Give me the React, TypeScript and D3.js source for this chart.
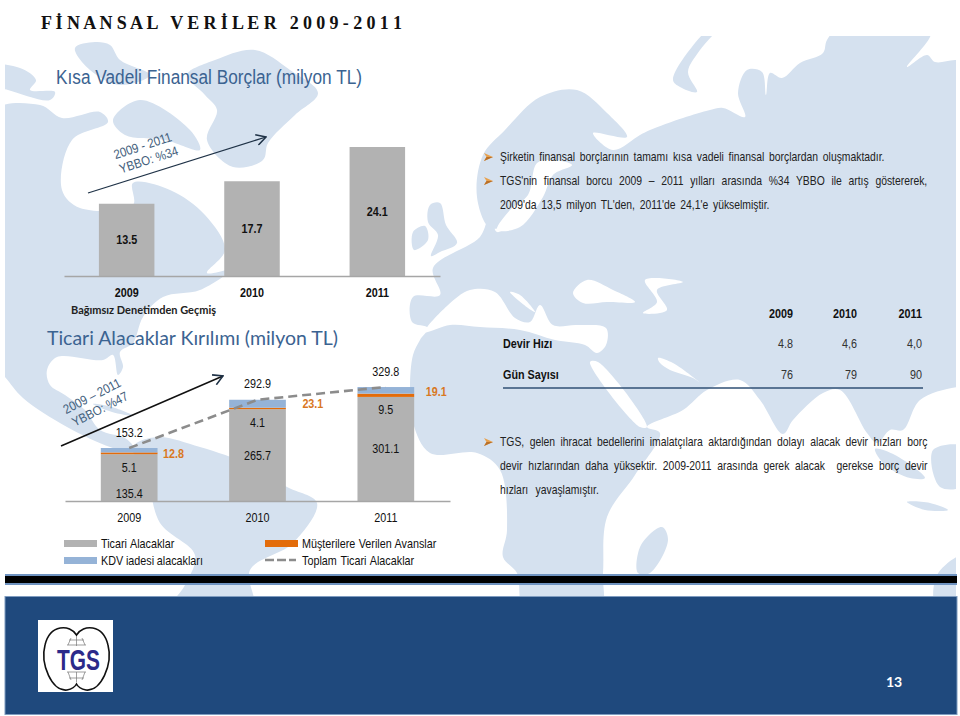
import * as d3 from 'd3';
import { useEffect, useRef } from 'react';

// chart data
const years = ['2009', '2010', '2011'];
const debtValues = [13.5, 17.7, 24.1];
const tradeReceivables = [135.4, 265.7, 301.1];
const customerAdvances = [5.1, 4.1, 9.5];
const vatReceivables = [12.8, 23.1, 19.1];
const totalReceivables = [153.2, 292.9, 329.8];
const stackKeys = ['trade', 'advance', 'vat'];

const turnoverRows = [
    { label: 'Devir Hızı', values: ['4.8', '4,6', '4,0'] },
    { label: 'Gün Sayısı', values: ['76', '79', '90'] },
];

const LAND = '#d5e1ef';
const GREY = '#b2b2b2';
const ORANGE = '#e36c0a';
const KDV = '#95b3d7';
const TITLE_BLUE = '#3b6391';
const ARIAL = '"Liberation Sans", Arial, sans-serif';
const CALIBRI = 'Lato, "Open Sans", sans-serif';
const SQUEEZE = 0.83;

// rough outlines of the background world map, page coordinates
const landShapes: [number, number][][] = [
    [[-10, 66], [20, 68], [36, 80], [30, 90], [55, 92], [50, 100], [8, 90], [-10, 85]],
    [[75, 48], [95, 42], [110, 45], [120, 60], [150, 75], [120, 85], [90, 70]],
    [[113, 120], [140, 100], [190, 130], [200, 150], [165, 140], [125, 135]],
    [[187, 75], [215, 60], [255, 50], [290, 70], [318, 93], [295, 115], [268, 143], [263, 160], [233, 167], [207, 140], [217, 110], [205, 95]],
    // north and central America
    [[-10, 113], [40, 105], [62, 118], [100, 112], [108, 122], [72, 140], [62, 190], [80, 208], [133, 205], [133, 183], [170, 190], [205, 215], [225, 250], [207, 273], [230, 270], [200, 290], [163, 297], [143, 317], [133, 343], [120, 352], [123, 367], [118, 375], [113, 355], [103, 360], [57, 357], [47, 370], [50, 385], [65, 395], [85, 410], [100, 430], [125, 438], [133, 447], [123, 450], [110, 447], [67, 427], [23, 398], [5, 377], [-10, 360]],
    // cuba
    [[93, 404], [112, 407], [134, 416], [112, 412]],
    // south America
    [[133, 447], [157, 437], [200, 447], [250, 465], [287, 487], [317, 503], [293, 543], [250, 570], [253, 610], [170, 610], [185, 585], [195, 555], [160, 523], [147, 477]],
    // ireland, britain
    [[413, 232], [425, 226], [428, 240], [414, 250]],
    [[430, 205], [440, 203], [446, 225], [457, 243], [440, 252], [431, 256], [438, 235], [428, 222]],
    // eurasia and africa
    [[483, 155], [505, 130], [540, 97], [577, 90], [607, 113], [627, 137], [593, 133], [613, 150], [640, 135], [650, 130], [683, 118], [710, 110], [723, 108], [745, 117], [738, 93], [747, 70], [762, 72], [766, 95], [770, 73], [782, 78], [800, 63], [823, 53], [827, 40], [847, 20], [933, 20], [930, 37], [907, 67], [927, 55], [935, 62], [955, 60], [980, 60], [980, 387], [957, 387], [920, 400], [903, 430], [890, 430], [877, 443], [867, 433], [840, 390], [823, 393], [793, 420], [783, 434], [760, 400], [740, 380], [707, 390], [683, 410], [647, 427], [660, 433], [635, 475], [607, 517], [603, 573], [600, 610], [525, 610], [517, 573], [503, 557], [507, 530], [500, 470], [477, 453], [430, 453], [413, 423], [410, 390], [413, 355], [420, 340], [428, 328], [412, 322], [413, 297], [440, 295], [433, 268], [480, 237], [490, 215], [497, 232], [510, 225], [490, 228], [477, 197]],
    // madagascar, islands, australia
    [[662, 527], [668, 540], [650, 573], [638, 573], [641, 545]],
    [[875, 449], [895, 455], [925, 478], [910, 478], [885, 465]],
    [[933, 450], [965, 447], [965, 485], [940, 487]],
    [[907, 502], [930, 503], [948, 510], [925, 510]],
    [[937, 575], [965, 555], [965, 610], [937, 610]],
    // novaya zemlya
    [[720, 20], [695, 43], [673, 80], [680, 87], [697, 92], [688, 72], [700, 50], [725, 20]],
];

// seas cut out of the land
const seaShapes: [number, number][][] = [
    [[537, 163], [552, 160], [572, 165], [553, 175], [543, 197], [520, 227], [497, 230], [510, 210], [528, 195]],
    // black sea, caspian
    [[573, 293], [587, 280], [613, 290], [635, 302], [607, 302], [583, 303]],
    [[645, 280], [683, 282], [657, 290], [667, 310], [643, 313], [657, 302]],
    // mediterranean, adriatic
    [[425, 332], [447, 306], [470, 290], [495, 292], [515, 318], [530, 322], [540, 305], [553, 325], [577, 325], [606, 328], [606, 345], [597, 353], [585, 345], [555, 340], [520, 330], [480, 327], [450, 325]],
    [[510, 292], [520, 295], [535, 312], [528, 308]],
    // red sea, gulf
    [[590, 362], [598, 362], [647, 427], [640, 427]],
    [[658, 358], [673, 363], [703, 385], [693, 378], [670, 370], [660, 363]],
];

const mapLine = d3.line().curve(d3.curveCatmullRomClosed.alpha(0.5));

const debtX = d3.scaleBand().domain(years).range([64, 440]).paddingInner(0.557).paddingOuter(0.2785);
const debtY = d3.scaleLinear().domain([0, 24.1]).range([276, 147]);

const recvX = d3.scaleBand().domain(years).range([65, 450]).paddingInner(0.558).paddingOuter(0.279);
const recvY = d3.scaleLinear().domain([0, 329.8]).range([501, 387]);

const stackRows = years.map((year, i) => ({
    year,
    trade: tradeReceivables[i],
    advance: customerAdvances[i],
    vat: vatReceivables[i],
}));
const stacked = d3.stack().keys(stackKeys)(stackRows as any);
const stackColors: Record<string, string> = { trade: GREY, advance: ORANGE, vat: KDV };

const totalLine = d3.line<number>()
    .x((_, i) => recvX(years[i])! + recvX.bandwidth() / 2)
    .y((d) => recvY(d));

// extra push for the orange labels beside the bars
const vatLabelGap = [16, 27, 22];

const measureCtx = document.createElement('canvas').getContext('2d')!;

function Bullet({ x, y }: { x: number; y: number }) {
    return <g transform={`translate(${x},${y})`}>
        <path d="M0,-4 L9,0 L0,4 L2.5,0 Z" fill="#e8a04c" />
        <path d="M0,4 L9,0 L2.5,0 Z" fill="#b8702a" />
    </g>;
}

// narrow text like the source, word gaps stretched to reach the given width
function Line({ x, y, text, width, size = 12.5, fill = '#222', weight = 'normal' }: any) {
    measureCtx.font = `${weight} ${size}px "Liberation Sans"`;
    const natural = measureCtx.measureText(text).width;
    const gaps = text.split(' ').length - 1;
    const spread = gaps ? (width / SQUEEZE - natural) / gaps : 0;
    return <text transform={`translate(${x},${y}) scale(${SQUEEZE},1)`} fontFamily={ARIAL} fontSize={size}
        fontWeight={weight} fill={fill} wordSpacing={spread} style={{ whiteSpace: 'pre' }}>{text}</text>;
}

function Narrow({ x, y, text, anchor = 'middle', weight = 'normal', fill = '#111', size = 13 }: any) {
    return <text transform={`translate(${x},${y}) scale(${SQUEEZE},1)`} textAnchor={anchor} fontFamily={ARIAL}
        fontSize={size} fontWeight={weight} fill={fill}>{text}</text>;
}

function Logo() {
    return <g>
        <rect x={38} y={620} width={75} height={72} fill="#fff" />
        <path d="M76.5,635 C70,624 50,624 45,645 C40,664 52,692 67,690 C72,689 75,687 76.5,684 C78,687 81,689 86,690 C101,692 113,664 108,645 C103,624 83,624 76.5,635 Z"
            fill="none" stroke="#111" strokeWidth={1.6} />
        <path d="M67,645 L86,645 M69,640 L84,640 M76.5,636 L76.5,646 M71,638 L68,645 M82,638 L85,645" stroke="#777" strokeWidth={0.7} fill="none" />
        <path d="M67,672 L86,672 M69,678 L84,678 M76.5,672 L76.5,682 M68,672 L71,680 M85,672 L82,680" stroke="#777" strokeWidth={0.7} fill="none" />
        <text transform="translate(57,670) scale(0.72,1)" fontFamily={ARIAL} fontWeight="bold" fontSize={29} fill="#2b2a8a">TGS</text>
    </g>;
}

export default function App() {
    const debtAxis = useRef<SVGGElement>(null);
    const recvAxis = useRef<SVGGElement>(null);

    useEffect(() => {
        const draw = (node: SVGGElement | null, scale: any, bold: boolean) => {
            const g = d3.select(node).call(d3.axisBottom(scale).tickSize(0).tickPadding(11.5));
            g.select('.domain').attr('stroke', '#a6a6a6').attr('stroke-width', 1.5);
            g.selectAll('text')
                .attr('font-family', ARIAL)
                .attr('font-size', 13)
                .attr('font-weight', bold ? 'bold' : 'normal')
                .attr('fill', '#111')
                .attr('transform', `scale(${SQUEEZE},1)`);
        };
        draw(debtAxis.current, debtX, true);
        draw(recvAxis.current, recvX, false);
    }, []);

    return <svg width={960} height={716} style={{ position: 'absolute', left: 0, top: 0 }}>
        <defs>
            <clipPath id="mapClip"><rect x={5} y={36} width={951} height={564} /></clipPath>
            <marker id="openHead" viewBox="0 0 10 10" refX={9} refY={5} markerWidth={12} markerHeight={12} markerUnits="userSpaceOnUse" orient="auto">
                <path d="M1,0.5 L9,5 L1,9.5" fill="none" stroke="#1f3247" strokeWidth={1.3} />
            </marker>
        </defs>
        <rect width={960} height={716} fill="#fff" />

        <g clipPath="url(#mapClip)">
            {landShapes.map((s, i) => <path key={i} d={mapLine(s)!} fill={LAND} />)}
            {seaShapes.map((s, i) => <path key={i} d={mapLine(s)!} fill="#fff" />)}
        </g>

        <text x={41} y={29} fontFamily='"Liberation Serif", serif' fontWeight="bold" fontSize={18} fill="#111"
            style={{ whiteSpace: 'pre' }} textLength={361} lengthAdjust="spacing">F İ N A N S A L   V E R İ L E R   2 0 0 9 - 2 0 1 1</text>

        {/* short term debt chart */}
        <text x={56} y={84} fontFamily={ARIAL} fontSize={20} fill={TITLE_BLUE} textLength={306} lengthAdjust="spacingAndGlyphs">Kısa Vadeli Finansal Borçlar (milyon TL)</text>
        {debtValues.map((v, i) => <g key={years[i]}>
            <rect x={debtX(years[i])} y={debtY(v)} width={debtX.bandwidth()} height={debtY(0) - debtY(v)} fill={GREY} />
            <Narrow x={debtX(years[i])! + debtX.bandwidth() / 2} y={(debtY(v) + debtY(0)) / 2 + 4.5} weight="bold" text={v.toFixed(1)} />
        </g>)}
        <g ref={debtAxis} transform={`translate(0,${debtY(0)})`} />
        <line x1={88} y1={193} x2={266} y2={137} stroke="#1f3247" strokeWidth={1.3} markerEnd="url(#openHead)" />
        <g fontFamily={ARIAL} fontSize={13} fill="#43607c" textAnchor="middle">
            <text transform="translate(144,150) rotate(-18) scale(0.88,1)">2009 - 2011</text>
            <text transform="translate(150,164) rotate(-18) scale(0.88,1)">YBBO: %34</text>
        </g>
        <text x={71} y={314} fontFamily={CALIBRI} fontWeight="bold" fontSize={11.5} fill="#222" textLength={145} lengthAdjust="spacingAndGlyphs">Bağımsız Denetimden Geçmiş</text>

        {/* trade receivables chart */}
        <text x={47} y={345} fontFamily={CALIBRI} fontSize={20} fill={TITLE_BLUE} textLength={291} lengthAdjust="spacingAndGlyphs">Ticari Alacaklar Kırılımı (milyon TL)</text>
        {stacked.map((layer: any) => layer.map((d: any) => <rect key={layer.key + d.data.year}
            x={recvX(d.data.year)} y={recvY(d[1])} width={recvX.bandwidth()}
            height={recvY(d[0]) - recvY(d[1])} fill={stackColors[layer.key]} />))}
        <path d={totalLine(totalReceivables)!} fill="none" stroke="#8c8c8c" strokeWidth={2.6} strokeDasharray="9 5" />
        <g ref={recvAxis} transform={`translate(0,${recvY(0)})`} />
        {years.map((year, i) => {
            const cx = recvX(year)! + recvX.bandwidth() / 2;
            const tradeTop = recvY(tradeReceivables[i]);
            // the 2009 label sits lower in the bar than the other two
            const tradeMid = i === 0 ? recvY(0) - 8 : (tradeTop + recvY(0)) / 2;
            return <g key={year}>
                <Narrow x={cx} y={recvY(totalReceivables[i]) - 11.5} text={totalReceivables[i].toFixed(1)} />
                <Narrow x={cx} y={tradeTop + 17.5} text={customerAdvances[i].toFixed(1)} />
                <Narrow x={cx} y={tradeMid + 4.5} text={tradeReceivables[i].toFixed(1)} />
                <Narrow x={recvX(year)! + recvX.bandwidth() + vatLabelGap[i]} y={recvY(totalReceivables[i]) + 8.5 + (i === 0 ? 1 : 0)}
                    fill="#d9781f" weight="bold" text={vatReceivables[i].toFixed(1)} />
            </g>;
        })}
        <rect x={64} y={540} width={33} height={7} fill={GREY} />
        <Line x={101} y={547.5} size={13} fill="#111" width={74} text="Ticari Alacaklar" />
        <rect x={64} y={557} width={33} height={7} fill={KDV} />
        <Line x={101} y={564.5} size={13} fill="#111" width={102} text="KDV iadesi alacakları" />
        <rect x={265} y={540} width={33} height={7} fill={ORANGE} />
        <Line x={302} y={547.5} size={13} fill="#111" width={135} text="Müşterilere Verilen Avanslar" />
        <line x1={265} x2={296} y1={560} y2={560} stroke="#8c8c8c" strokeWidth={2.6} strokeDasharray="9 3" />
        <Line x={302} y={564.5} size={13} fill="#111" width={113} text="Toplam Ticari Alacaklar" />

        <line x1={61} y1={446} x2={223} y2={376} stroke="#111" strokeWidth={1.5} markerEnd="url(#openHead)" />
        <g fontFamily={ARIAL} fontSize={13} fill="#43607c" textAnchor="middle">
            <text transform="translate(94,400) rotate(-27) scale(0.88,1)">2009 – 2011</text>
            <text transform="translate(102,413) rotate(-27) scale(0.88,1)">YBBO:  %47</text>
        </g>

        {/* right column */}
        <Bullet x={484} y={157} />
        <Line x={500} y={161} width={385} text="Şirketin finansal borçlarının tamamı kısa vadeli finansal borçlardan oluşmaktadır." />
        <Bullet x={484} y={181} />
        <Line x={500} y={185} width={428} text="TGS'nin finansal borcu 2009 – 2011 yılları arasında %34 YBBO ile artış göstererek," />
        <Line x={500} y={208.5} width={270} text="2009'da 13,5 milyon TL'den, 2011'de 24,1'e yükselmiştir." />

        {years.map((year, i) => {
            const right = [793, 857, 922][i];
            return <g key={year}>
                <Narrow x={right} y={317.5} anchor="end" weight="bold" text={year} />
                {turnoverRows.map((row, r) => <Narrow key={row.label} x={right} y={347.5 + r * 31} anchor="end" fill="#333" text={row.values[i]} />)}
            </g>;
        })}
        {turnoverRows.map((row, r) => <Narrow key={row.label} x={503} y={347.5 + r * 31} anchor="start" weight="bold" text={row.label} />)}
        <line x1={503} x2={923} y1={388} y2={388} stroke="#2f4f75" strokeWidth={1.5} />

        <Bullet x={484} y={442} />
        <Line x={500} y={446} width={428} text="TGS, gelen ihracat bedellerini imalatçılara aktardığından dolayı alacak devir hızları borç" />
        <Line x={500} y={470} width={428} text="devir hızlarından daha yüksektir. 2009-2011 arasında gerek alacak  gerekse borç devir" />
        <Line x={500} y={494} width={99} text="hızları yavaşlamıştır." />

        {/* footer */}
        <rect x={5} y={574} width={952} height={11} fill="#6f93c0" />
        <rect x={5} y={576} width={952} height={7} fill="#000" />
        <rect x={5} y={596.5} width={952} height={118} fill="#1f497d" stroke="#7f9cc0" strokeWidth={1} />
        <Logo />
        <text x={894} y={687} textAnchor="middle" fontFamily={CALIBRI} fontWeight="bold" fontSize={14} fill="#fff">13</text>
    </svg>;
}
